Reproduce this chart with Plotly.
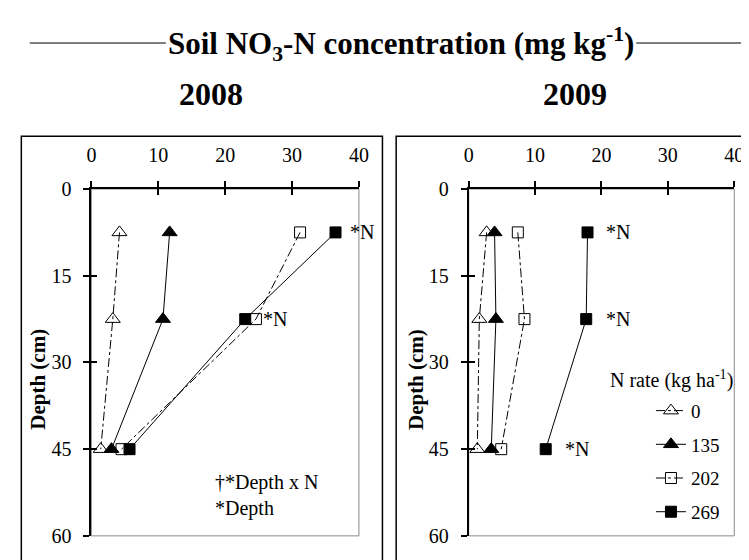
import plotly.graph_objects as go

# depth of sampling (cm)
depth = [7.5, 22.5, 45]
rates = ["0", "135", "202", "269"]

# soil NO3-N (mg/kg), 2008
no3_2008_0 = [4.2, 3.2, 1.4]
no3_2008_135 = [11.7, 10.7, 3.0]
no3_2008_202 = [31.2, 24.6, 4.5]
no3_2008_269 = [36.5, 23.0, 5.7]

# soil NO3-N (mg/kg), 2009
no3_2009_0 = [2.7, 1.6, 1.3]
no3_2009_135 = [3.9, 4.1, 3.4]
no3_2009_202 = [7.4, 8.4, 4.9]
no3_2009_269 = [17.9, 17.7, 11.6]

x_ticks = [0, 10, 20, 30, 40]
y_ticks = [0, 15, 30, 45, 60]

FONT = "Liberation Serif"
W, H = 749, 560

styles = {
    "0": dict(symbol="triangle-up-open", size=13, dash="dashdot"),
    "135": dict(symbol="triangle-up", size=13, dash="solid"),
    "202": dict(symbol="square-open", size=11, dash="dashdot"),
    "269": dict(symbol="square", size=11, dash="solid"),
}

data2008 = [no3_2008_0, no3_2008_135, no3_2008_202, no3_2008_269]
data2009 = [no3_2009_0, no3_2009_135, no3_2009_202, no3_2009_269]

fig = go.Figure()

def add_series(vals, xa, ya, show):
    for r, v in zip(rates, vals):
        s = styles[r]
        fig.add_trace(go.Scatter(
            x=v, y=depth, xaxis=xa, yaxis=ya, name=r, legendgroup=r,
            showlegend=show, mode="lines+markers",
            line=dict(color="black", width=1, dash=s["dash"]),
            marker=dict(symbol=s["symbol"], size=s["size"], color="black",
                        line=dict(color="black", width=1)),
        ))

add_series(data2008, "x", "y", False)
add_series(data2009, "x2", "y2", True)

# empty traces so the overlay axes (inner half of the crossing ticks) get drawn
for xa, ya in [("x3", "y3"), ("x4", "y4")]:
    fig.add_trace(go.Scatter(x=[None], y=[None], xaxis=xa, yaxis=ya,
                             showlegend=False, hoverinfo="skip"))

def px(x):
    return x / W

def py(y):
    return 1 - y / H

xdom1 = [px(80), px(353)]
xdom2 = [px(465), px(736)]
ydom = [py(538), py(177)]

axis_common = dict(
    showline=True, linecolor="black", linewidth=2, showgrid=False, zeroline=False,
    ticks="outside", ticklen=6, tickwidth=1.5, tickcolor="black",
)
inner = dict(showline=False, showgrid=False, zeroline=False, ticks="inside",
             ticklen=6, tickwidth=1.5, tickcolor="black", showticklabels=False)

for i, xd in enumerate([xdom1, xdom2]):
    n = "" if i == 0 else "2"
    m = "3" if i == 0 else "4"
    fig.layout["xaxis" + n] = dict(axis_common, domain=xd, range=[0, 40], tickvals=x_ticks,
                                   side="top", anchor="y" + n, ticklabelstandoff=11)
    fig.layout["yaxis" + n] = dict(axis_common, domain=ydom, range=[60, 0], tickvals=y_ticks,
                                   anchor="x" + n, ticklabelstandoff=8)
    fig.layout["xaxis" + m] = dict(inner, overlaying="x" + n, range=[0, 40], tickvals=x_ticks,
                                   side="top", anchor="y" + m)
    fig.layout["yaxis" + m] = dict(inner, overlaying="y" + n, range=[60, 0], tickvals=y_ticks,
                                   anchor="x" + m)

fig.update_xaxes(tickfont=dict(family=FONT, size=20, color="black"))
fig.update_yaxes(tickfont=dict(family=FONT, size=20, color="black"))

shapes = []
# gray frame of each plot area
for xr, yr in [("x domain", "y domain"), ("x2 domain", "y2 domain")]:
    shapes.append(dict(type="rect", xref=xr, yref=yr, x0=0, x1=1, y0=0, y1=1,
                       line=dict(color="#8a8a8a", width=1), layer="below"))
# outer panel boxes
shapes.append(dict(type="rect", xref="paper", yref="paper", x0=px(8.5), x1=px(377),
                   y0=-0.1, y1=py(122), line=dict(color="black", width=1.5)))
shapes.append(dict(type="rect", xref="paper", yref="paper", x0=px(391), x1=1.1,
                   y0=-0.1, y1=py(122), line=dict(color="black", width=1.5)))
# rules either side of the header
shapes.append(dict(type="line", xref="paper", yref="paper", x0=px(17), x1=px(156),
                   y0=py(25), y1=py(25), line=dict(color="black", width=1)))
shapes.append(dict(type="line", xref="paper", yref="paper", x0=px(636), x1=px(743),
                   y0=py(25), y1=py(25), line=dict(color="black", width=1)))

def ann(text, x, y, xref="paper", yref="paper", size=20, bold=False, **kw):
    t = f"<b>{text}</b>" if bold else text
    d = dict(text=t, x=x, y=y, xref=xref, yref=yref, showarrow=False,
             xanchor="center", yanchor="middle",
             font=dict(family=FONT, size=size, color="black"))
    d.update(kw)
    return d

annotations = [
    ann("Soil NO<sub>3</sub>-N concentration (mg kg<sup>-1</sup>)", px(396), py(26),
        size=31, bold=True),
    ann("2008", px(202), py(78), size=32, bold=True),
    ann("2009", px(573), py(78), size=32, bold=True),
    ann("Depth (cm)", px(26), py(375), size=21, bold=True, textangle=-90),
    ann("Depth (cm)", px(411), py(375), size=21, bold=True, textangle=-90),
    # significance labels
    ann("*N", 38.4, 7.5, "x", "y", xanchor="left"),
    ann("*N", 25.3, 22.5, "x", "y", xanchor="left"),
    ann("†*Depth x N<br>*Depth", 18.2, 53.0, "x", "y", xanchor="left", align="left"),
    ann("*N", 20.4, 7.5, "x2", "y2", xanchor="left"),
    ann("*N", 20.4, 22.5, "x2", "y2", xanchor="left"),
    ann("*N", 14.2, 45, "x2", "y2", xanchor="left"),
    ann("N rate (kg ha<sup>-1</sup>)", px(607), py(375), size=20, xanchor="left"),
]

fig.update_layout(
    width=W, height=H, margin=dict(l=0, r=0, t=0, b=0),
    paper_bgcolor="white", plot_bgcolor="white",
    font=dict(family=FONT, size=20, color="black"),
    shapes=shapes, annotations=annotations,
    legend=dict(x=px(651), y=py(388), xanchor="left", yanchor="top",
                font=dict(family=FONT, size=19, color="black"),
                bgcolor="rgba(0,0,0,0)", tracegroupgap=6),
)

fig.write_html("out.html")
